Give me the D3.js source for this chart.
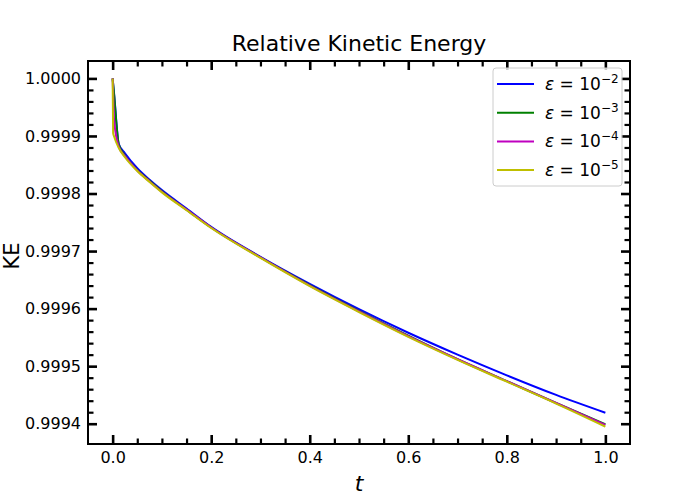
<!DOCTYPE html>
<html>
<head>
<meta charset="utf-8">
<script src="https://cdn.jsdelivr.net/npm/d3@7.9.0/dist/d3.min.js"></script>
<style>
  body { margin: 0; background: #fff; }
  svg, svg text { font-family: 'DejaVu Sans', sans-serif; }
</style>
</head>
<body>
<svg id="chart" width="700" height="500"></svg>
<script>
// time samples shared by every run
const tValues = [0, 0.001, 0.003, 0.0125, 0.025, 0.05, 0.075, 0.1, 0.15, 0.2,
  0.3, 0.4, 0.5, 0.6, 0.7, 0.8, 0.9, 1.0];

const keEps2 = [1.0, 0.999991, 0.999973, 0.999886, 0.999870, 0.999844, 0.999824, 0.999806,
  0.999774, 0.999742, 0.999690, 0.999643, 0.999599, 0.999558, 0.999520, 0.999484, 0.999450, 0.999419];
const keEps3 = [1.0, 0.999990, 0.999971, 0.999885, 0.999866, 0.999841, 0.999822, 0.999804,
  0.999772, 0.999741, 0.999689, 0.999641, 0.999596, 0.999553, 0.999512, 0.999474, 0.999436, 0.999399];
const keEps4 = [1.0, 0.999975, 0.999927, 0.999881, 0.999865, 0.999840, 0.999821, 0.999803,
  0.999772, 0.999741, 0.999689, 0.999640, 0.999595, 0.999552, 0.999512, 0.999474, 0.999436, 0.999398];
const keEps5 = [1.0, 0.999905, 0.999899, 0.999879, 0.999863, 0.999839, 0.999820, 0.999802,
  0.999771, 0.999740, 0.999688, 0.999639, 0.999594, 0.999551, 0.999511, 0.999473, 0.999435, 0.999395];

const seriesExponents = ['2', '3', '4', '5'];
const seriesColors = ['#0000ff', '#008000', '#bf00bf', '#bfbf00'];

const xTicks = [0, 0.2, 0.4, 0.6, 0.8, 1.0];
const yTicks = [0.9994, 0.9995, 0.9996, 0.9997, 0.9998, 0.9999, 1.0000];

const series = [keEps2, keEps3, keEps4, keEps5].map((vals, i) => ({
  exp: seriesExponents[i],
  color: seriesColors[i],
  points: vals.map((v, j) => [tValues[j], v])
}));

const svg = d3.select('#chart');
const plotL = 88, plotR = 630, plotT = 61, plotB = 444;

// matplotlib-style 5% margins
const xExt = d3.extent(tValues);
const xPad = (xExt[1] - xExt[0]) * 0.05;
const allY = series.flatMap(s => s.points.map(p => p[1]));
const yExt = d3.extent(allY);
const yPad = (yExt[1] - yExt[0]) * 0.05;

const x = d3.scaleLinear().domain([xExt[0] - xPad, xExt[1] + xPad]).range([plotL, plotR]);
const y = d3.scaleLinear().domain([yExt[0] - yPad, yExt[1] + yPad]).range([plotB, plotT]);

const xMinor = d3.range(0, 1.0001, 0.05).filter(v => Math.abs(v * 5 - Math.round(v * 5)) > 1e-6);
const yMinor = d3.range(0.9994, 1.00001, 0.00002).filter(v => Math.abs(v * 10000 - Math.round(v * 10000)) > 1e-6);

// title and axis labels
svg.append('text').attr('x', (plotL + plotR) / 2).attr('y', 51)
  .attr('text-anchor', 'middle').attr('font-size', 22).text('Relative Kinetic Energy');
svg.append('text').attr('x', (plotL + plotR) / 2).attr('y', 491)
  .attr('text-anchor', 'middle').attr('font-size', 22).attr('font-style', 'italic').text('t');
svg.append('text').attr('transform', 'translate(19,256) rotate(-90)')
  .attr('text-anchor', 'middle').attr('font-size', 21).text('KE');

// lines
svg.append('clipPath').attr('id', 'clip').append('rect')
  .attr('x', plotL).attr('y', plotT).attr('width', plotR - plotL).attr('height', plotB - plotT);

const line = d3.line().x(d => x(d[0])).y(d => y(d[1])).curve(d3.curveMonotoneX);
svg.append('g').attr('clip-path', 'url(#clip)')
  .selectAll('path').data(series).join('path')
  .attr('d', d => line(d.points))
  .attr('fill', 'none')
  .attr('stroke', d => d.color)
  .attr('stroke-width', 2);

// axes with inward ticks on all sides
function styleAxis(g, width) {
  g.attr('font-family', 'DejaVu Sans').attr('font-size', 16);
  g.select('.domain').remove();
  g.selectAll('.tick line').attr('stroke', '#000').attr('stroke-width', width);
  g.selectAll('.tick text').attr('fill', '#000')
    .style('font-family', "'DejaVu Sans'").style('font-size', '16px');
}

svg.append('g').attr('transform', `translate(0,${plotB})`)
  .call(d3.axisBottom(x).tickValues(xTicks).tickFormat(d3.format('.1f')).tickSize(-9).tickSizeOuter(0).tickPadding(8))
  .call(g => styleAxis(g, 2.6));
svg.append('g').attr('transform', `translate(0,${plotB})`)
  .call(d3.axisBottom(x).tickValues(xMinor).tickFormat('').tickSize(-5.5).tickSizeOuter(0))
  .call(g => styleAxis(g, 2.2));
svg.append('g').attr('transform', `translate(0,${plotT})`)
  .call(d3.axisTop(x).tickValues(xTicks).tickFormat('').tickSize(-9).tickSizeOuter(0))
  .call(g => styleAxis(g, 2.6));
svg.append('g').attr('transform', `translate(0,${plotT})`)
  .call(d3.axisTop(x).tickValues(xMinor).tickFormat('').tickSize(-5.5).tickSizeOuter(0))
  .call(g => styleAxis(g, 2.2));

svg.append('g').attr('transform', `translate(${plotL},0)`)
  .call(d3.axisLeft(y).tickValues(yTicks).tickFormat(d3.format('.4f')).tickSize(-9).tickSizeOuter(0).tickPadding(7))
  .call(g => styleAxis(g, 2.6));
svg.append('g').attr('transform', `translate(${plotL},0)`)
  .call(d3.axisLeft(y).tickValues(yMinor).tickFormat('').tickSize(-5.5).tickSizeOuter(0))
  .call(g => styleAxis(g, 2.2));
svg.append('g').attr('transform', `translate(${plotR},0)`)
  .call(d3.axisRight(y).tickValues(yTicks).tickFormat('').tickSize(-9).tickSizeOuter(0))
  .call(g => styleAxis(g, 2.6));
svg.append('g').attr('transform', `translate(${plotR},0)`)
  .call(d3.axisRight(y).tickValues(yMinor).tickFormat('').tickSize(-5.5).tickSizeOuter(0))
  .call(g => styleAxis(g, 2.2));

svg.append('rect').attr('x', plotL).attr('y', plotT)
  .attr('width', plotR - plotL).attr('height', plotB - plotT)
  .attr('fill', 'none').attr('stroke', '#000').attr('stroke-width', 2);

// legend
const lg = svg.append('g').attr('transform', 'translate(493,68)');
lg.append('rect').attr('width', 129).attr('height', 118).attr('rx', 3)
  .attr('fill', 'rgba(255,255,255,0.8)').attr('stroke', '#cccccc').attr('stroke-width', 1);
series.forEach((s, i) => {
  const yy = 16 + i * 28.7;
  lg.append('line').attr('x1', 4).attr('x2', 41).attr('y1', yy).attr('y2', yy)
    .attr('stroke', s.color).attr('stroke-width', 2);
  const t = lg.append('text').attr('x', 52).attr('y', yy + 6).attr('font-size', 17);
  t.append('tspan').attr('font-style', 'italic').text('ε');
  t.append('tspan').text(' = 10');
  t.append('tspan').attr('font-size', 12).attr('dy', -7).text('−' + s.exp);
});
</script>
</body>
</html>
